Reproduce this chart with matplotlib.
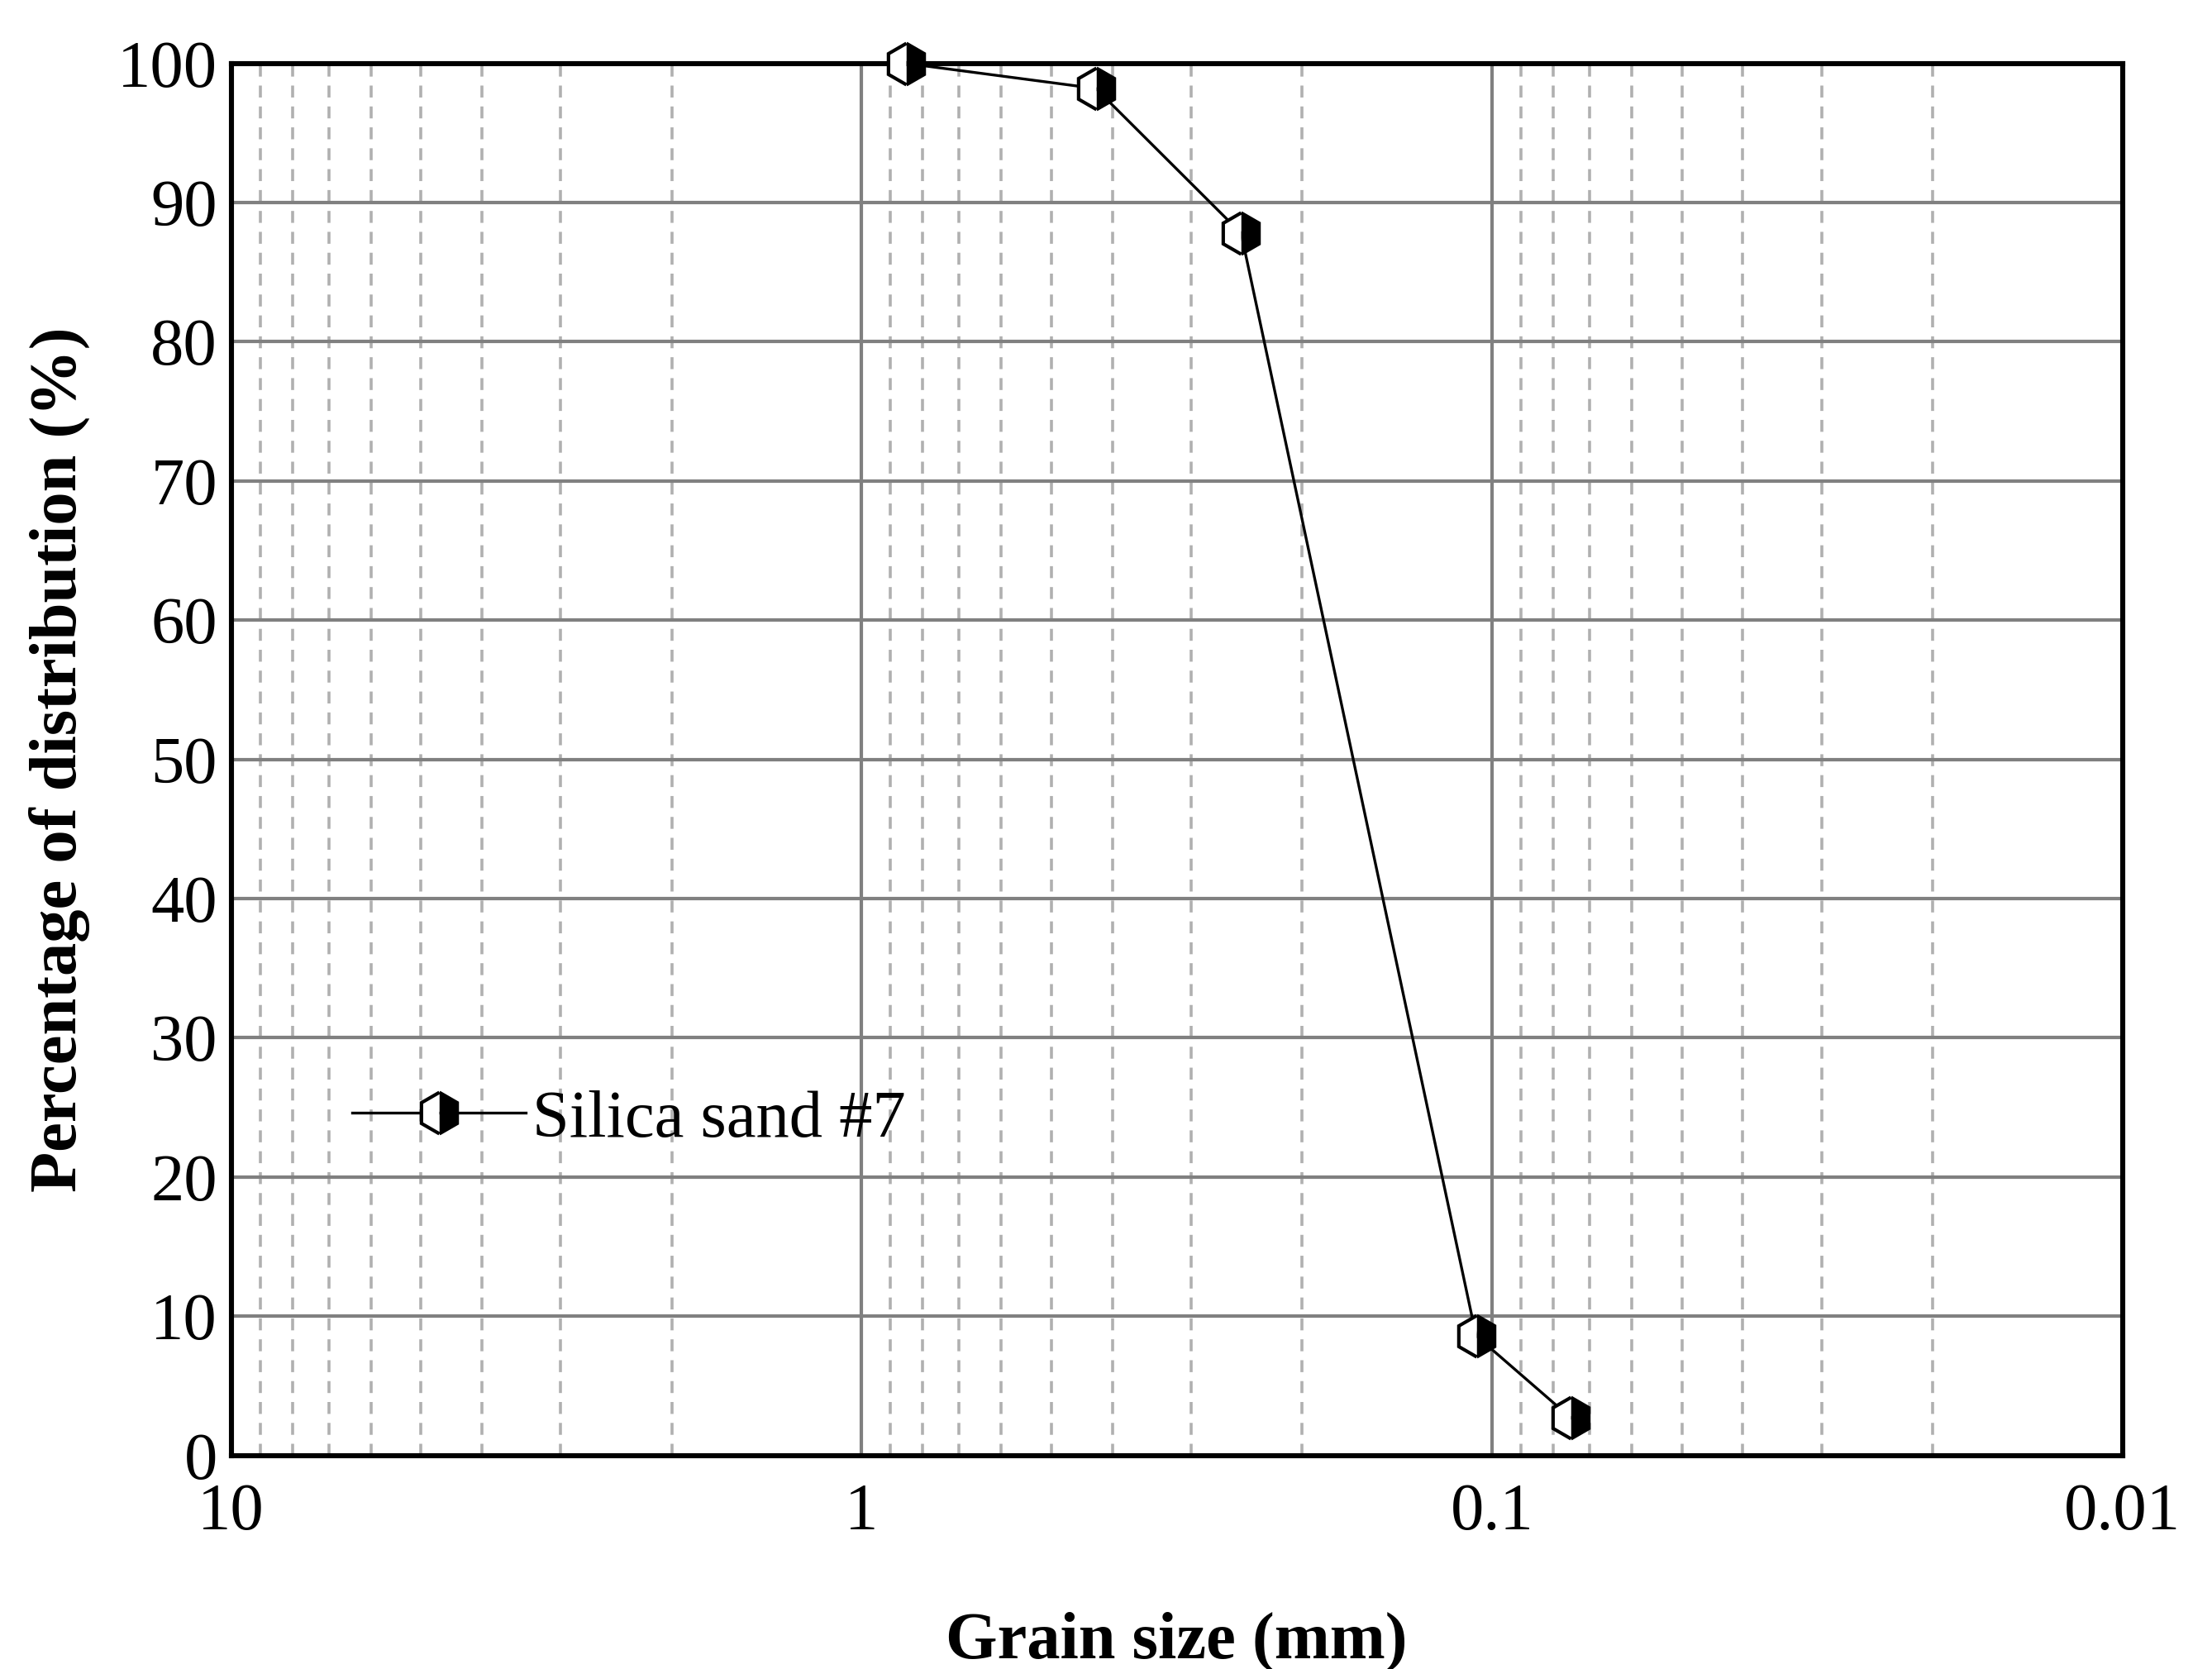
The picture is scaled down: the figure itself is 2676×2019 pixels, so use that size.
import matplotlib
matplotlib.use("Agg")
import matplotlib.pyplot as plt
from matplotlib.ticker import LogLocator, NullFormatter, FixedLocator, FixedFormatter

plt.rcParams['font.family'] = ['Liberation Serif', 'DejaVu Serif']

grain_mm = [0.85, 0.425, 0.25, 0.106, 0.075]
passing = [100.0, 98.2, 87.8, 8.6, 2.7]
x_ticks = [10, 1, 0.1, 0.01]
x_labels = ["10", "1", "0.1", "0.01"]

fig = plt.figure(figsize=(13.38, 10.095), dpi=200)
ax = fig.add_axes([0.1045, 0.128, 0.855, 0.834])
ax.plot(grain_mm, passing, color="black", lw=1.2, marker="h", markersize=18,
        fillstyle="right", markerfacecolor="black", markerfacecoloralt="white",
        markeredgecolor="black", markeredgewidth=1.5, label="Silica sand #7",
        zorder=5, clip_on=False)
ax.set_xscale("log")
ax.set_xlim(10, 0.01)
ax.set_ylim(0, 100)
ax.xaxis.set_major_locator(FixedLocator(x_ticks))
ax.xaxis.set_major_formatter(FixedFormatter(x_labels))
ax.xaxis.set_minor_locator(LogLocator(base=10, subs=range(2, 10)))
ax.xaxis.set_minor_formatter(NullFormatter())
ax.set_yticks(range(0, 101, 10))
ax.grid(True, which="major", color="#808080", lw=1.5)
ax.grid(True, which="minor", axis="x", color="#b0b0b0", lw=1.3, ls=(0, (4, 3)))
for s in ax.spines.values():
    s.set_linewidth(2.2)
ax.tick_params(which="both", length=0, labelsize=29)
ax.tick_params(axis="x", pad=12)
ax.tick_params(axis="y", pad=6)
ax.set_xlabel("Grain size (mm)", fontsize=29, fontweight="bold", labelpad=30)
ax.set_ylabel("Percentage of distribution (%)", fontsize=29, fontweight="bold", labelpad=12)
ax.legend(loc="lower left", bbox_to_anchor=(0.05, 0.2), frameon=False, fontsize=29,
          handlelength=2.6, handletextpad=0.1, borderaxespad=0)
fig.savefig("out.png")
